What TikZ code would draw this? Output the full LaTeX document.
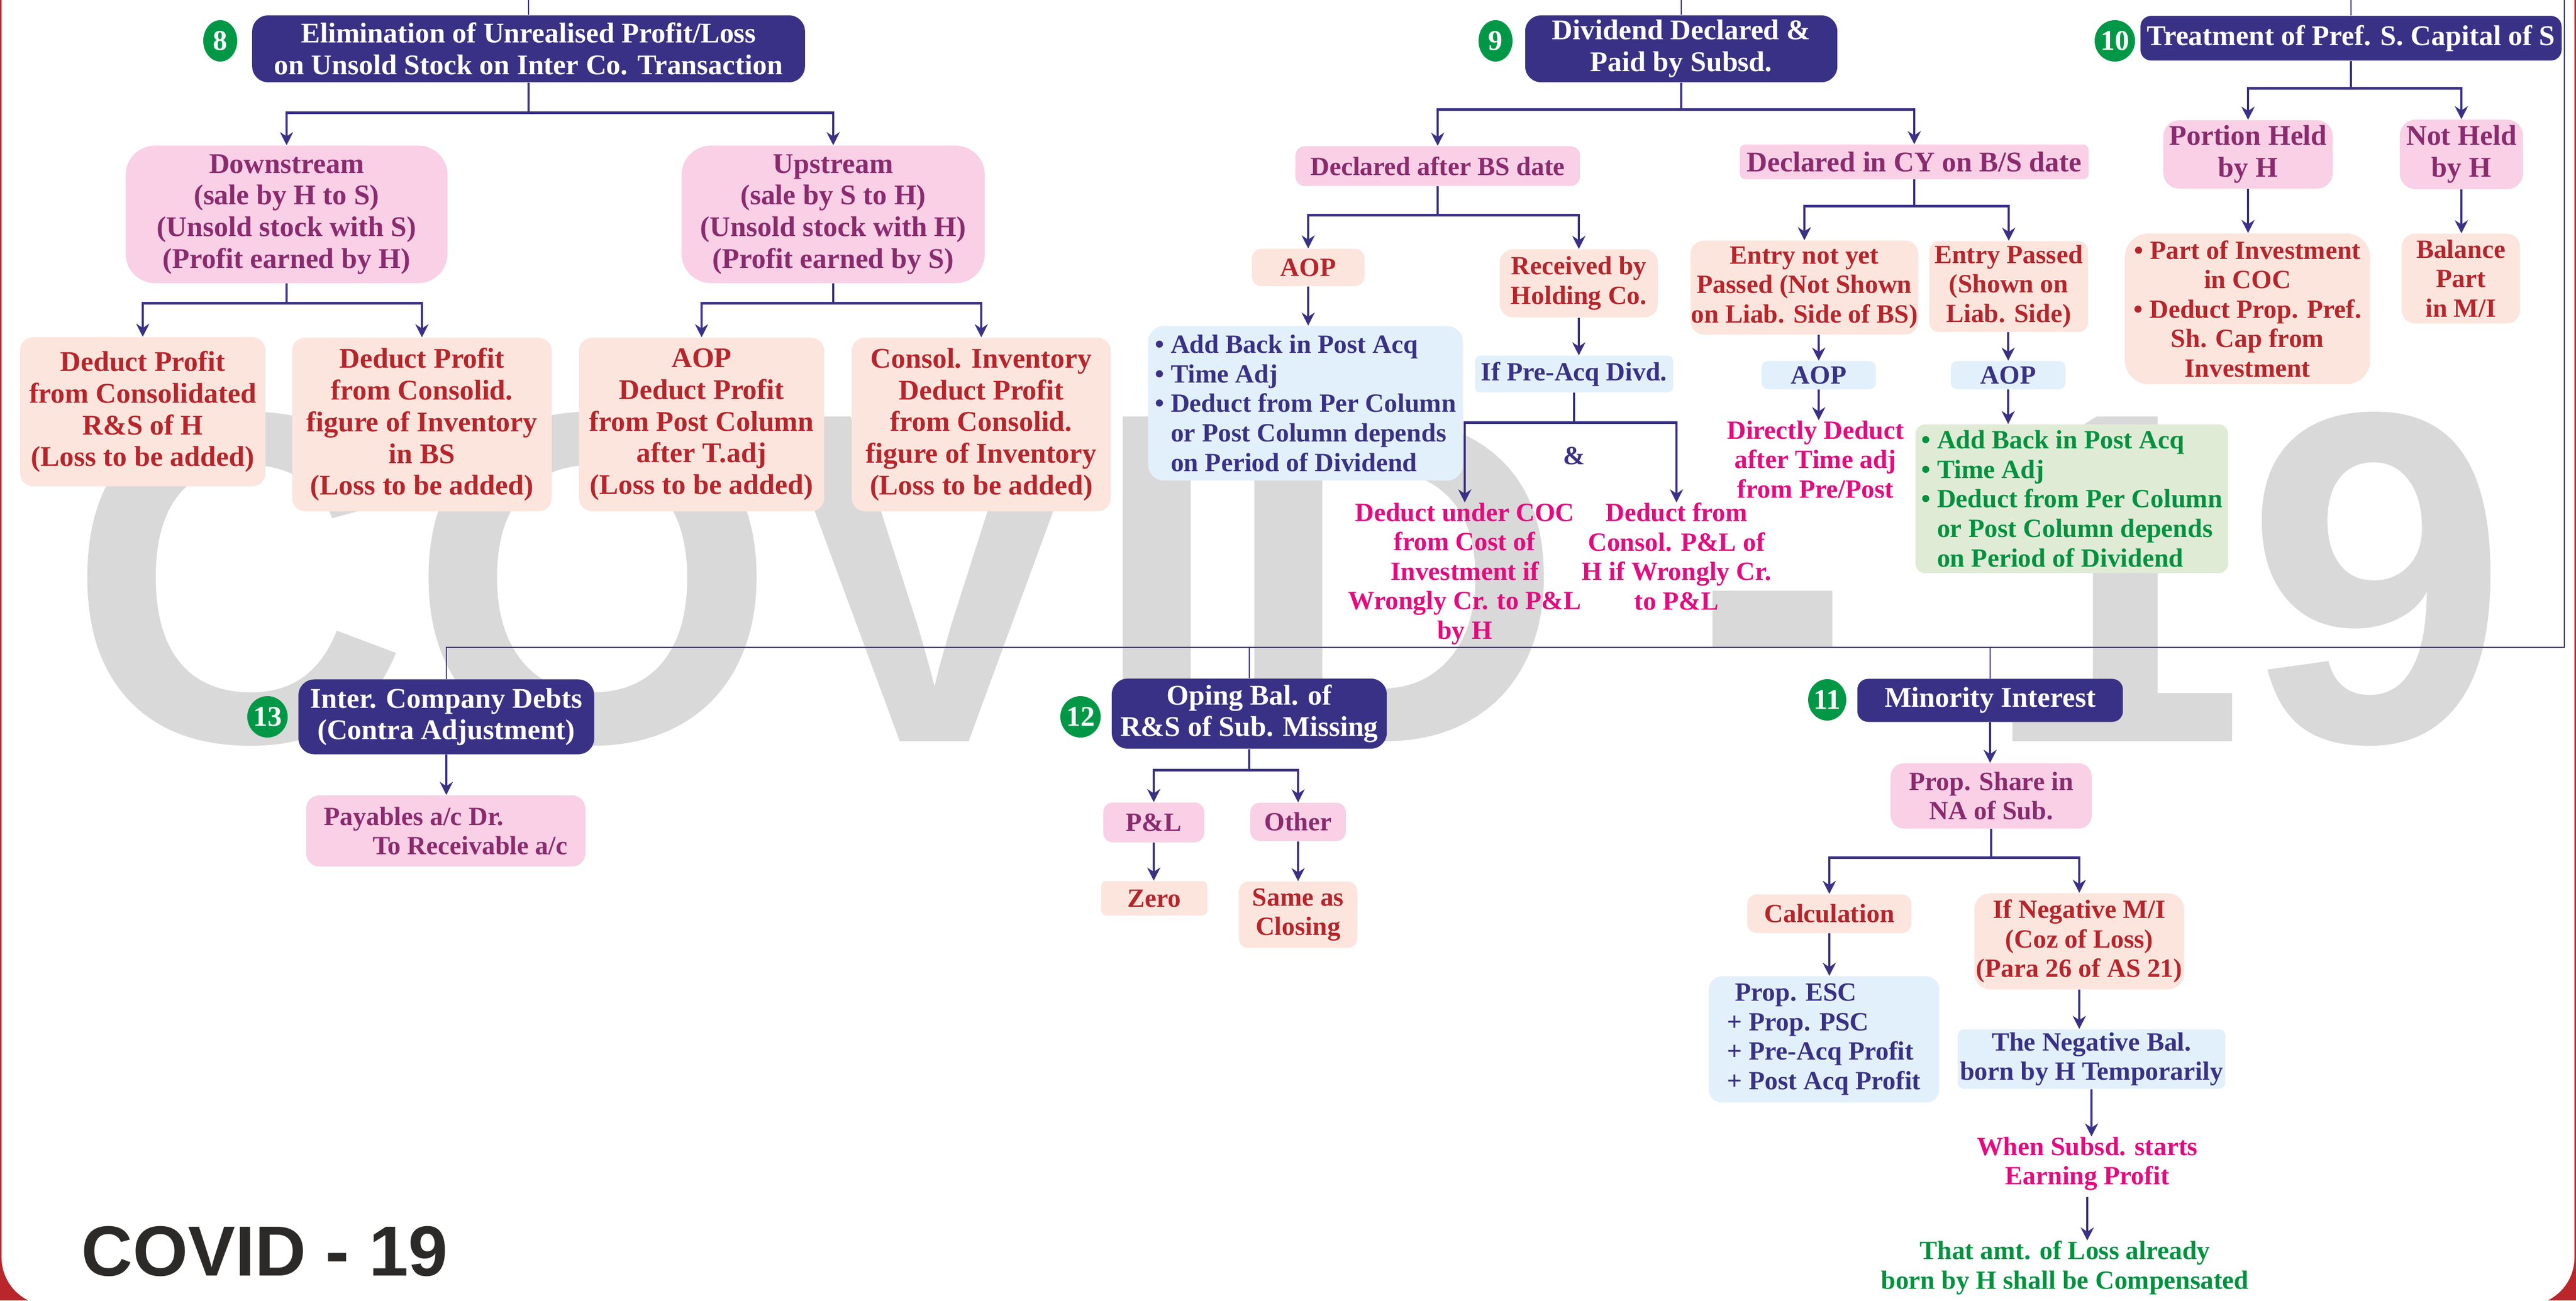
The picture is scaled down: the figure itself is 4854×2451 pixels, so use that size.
\documentclass[tikz,border=0pt]{standalone}
\usepackage{fontspec}
\setmainfont{Liberation Serif}
\newfontfamily\wmfont{Liberation Sans}
\usetikzlibrary{arrows.meta,shapes.geometric}

\definecolor{navy}{RGB}{57,49,133}
\definecolor{badgegreen}{RGB}{0,152,70}
\definecolor{pinkfill}{RGB}{249,208,230}
\definecolor{pinktext}{RGB}{139,43,111}
\definecolor{peachfill}{RGB}{252,229,221}
\definecolor{redtext}{RGB}{183,37,43}
\definecolor{bluefill}{RGB}{226,240,251}
\definecolor{greenfill}{RGB}{224,235,214}
\definecolor{greentext}{RGB}{0,146,63}
\definecolor{magtext}{RGB}{228,10,127}
\definecolor{wmgray}{RGB}{217,217,217}
\definecolor{framered}{RGB}{185,38,43}
\definecolor{darktext}{RGB}{43,42,41}

\newcommand{\bigtxt}{\fontsize{15.3}{17}\selectfont\bfseries}
\newcommand{\smalltxt}{\fontsize{14.1}{15.8}\selectfont\bfseries}

\tikzset{
  sz/.style 2 args={minimum width=#1cm, minimum height=#2cm},
  cell/.style={inner sep=0pt, align=center, rounded corners=0.18cm},
  big/.style={font=\bigtxt},
  titlebox/.style={cell, fill=navy, text=white, font=\bigtxt, rounded corners=0.3cm},
  pinkbox/.style={cell, fill=pinkfill, text=pinktext, font=\smalltxt},
  peachbox/.style={cell, fill=peachfill, text=redtext, font=\smalltxt},
  bluebox/.style={cell, fill=bluefill, text=navy, font=\smalltxt},
  greenbox/.style={cell, fill=greenfill, text=greentext, font=\smalltxt},
  badge/.style={ellipse, fill=badgegreen, text=white, inner sep=0pt,
    minimum width=0.64cm, minimum height=0.78cm, font=\bigtxt},
  freetext/.style={inner sep=0pt, align=center, font=\smalltxt},
  stub/.style={draw=navy, line width=0.9pt},
  arr/.style={draw=navy, line width=1.3pt, -{Stealth[length=7pt,width=7pt]}},
  bus/.style={draw=navy, line width=0.8pt}
}

\begin{document}
\begin{tikzpicture}[x=0.01cm, y=-0.01cm]
        % ---- page and frame -----------------------------
        \useasboundingbox (0,0) rectangle (4854,2451);
        \clip (0,0) rectangle (4854,2451);
        \fill[framered] (0,0) rectangle (4854,2451);
        \fill[white, rounded corners=0.9cm] (3,-100) rectangle (4851,2460);

        % ---- watermark and tag --------------------------
        \node[anchor=base west, inner sep=0pt, text=wmgray,
          font=\wmfont\bfseries\fontsize{253}{253}\selectfont] (wm) at (128,1397) {COVID - 19};
        \node[anchor=base west, inner sep=0pt, text=darktext,
          font=\wmfont\bfseries\fontsize{38}{38}\selectfont] (tag) at (153,2404) {COVID - 19};

        % ---- 8: unrealised profit -----------------------
        \node[badge] (b8) at (415,77) {8};
        \node[titlebox, sz={10.41}{1.26}] (t8) at (996,92)
          {Elimination of Unrealised Profit/Loss\\on Unsold Stock on Inter Co. Transaction};
        \node[pinkbox, big, sz={6.06}{2.59}, rounded corners=0.55cm] (down) at (540,404)
          {Downstream\\(sale by H to S)\\(Unsold stock with S)\\(Profit earned by H)};
        \node[pinkbox, big, sz={5.71}{2.59}, rounded corners=0.55cm] (up) at (1570,404)
          {Upstream\\(sale by S to H)\\(Unsold stock with H)\\(Profit earned by S)};
        \node[peachbox, big, sz={4.62}{2.81}, rounded corners=0.25cm] (d1) at (269,776)
          {Deduct Profit\\from Consolidated\\R\&S of H\\(Loss to be added)};
        \node[peachbox, big, sz={4.89}{3.27}, rounded corners=0.25cm] (d2) at (795,800)
          {Deduct Profit\\from Consolid.\\figure of Inventory\\in BS\\(Loss to be added)};
        \node[peachbox, big, sz={4.62}{3.27}, rounded corners=0.25cm] (u1) at (1322,800)
          {AOP\\Deduct Profit\\from Post Column\\after T.adj\\(Loss to be added)};
        \node[peachbox, big, sz={4.88}{3.27}, rounded corners=0.25cm] (u2) at (1849,800)
          {Consol. Inventory\\Deduct Profit\\from Consolid.\\figure of Inventory\\(Loss to be added)};

        % ---- 9: dividend --------------------------------
        \node[badge] (b9) at (2818,77) {9};
        \node[titlebox, sz={5.88}{1.26}] (t9) at (3168,92) {Dividend Declared \&\\Paid by Subsd.};
        \node[pinkbox, sz={5.36}{0.75}] (dab) at (2709,313) {Declared after BS date};
        \node[pinkbox, big, sz={6.57}{0.65}, rounded corners=0.1cm] (dcy) at (3607,305)
          {Declared in CY on B/S date};
        \node[peachbox, sz={2.12}{0.70}] (aopa) at (2465,504) {AOP};
        \node[peachbox, sz={2.98}{1.28}, rounded corners=0.25cm] (rec) at (2975,534)
          {Received by\\Holding Co.};
        \node[bluebox, sz={5.93}{2.91}, align=left, rounded corners=0.3cm] (addb) at (2460,760)
          {\textbullet\ Add Back in Post Acq\\\textbullet\ Time Adj\\\textbullet\ Deduct from Per Column\\
           \hphantom{\textbullet\ }or Post Column depends\\\hphantom{\textbullet\ }on Period of Dividend};
        \node[bluebox, sz={3.73}{0.69}, rounded corners=0.1cm] (ipa) at (2966,705) {If Pre-Acq Divd.};
        \node[freetext, text=navy] (amp) at (2966,859) {\&};
        \node[freetext, text=magtext, anchor=north] (coc) at (2760,947)
          {Deduct under COC\\from Cost of\\Investment if\\Wrongly Cr. to P\&L\\by H};
        \node[freetext, text=magtext, anchor=north] (plt) at (3159,947)
          {Deduct from\\Consol. P\&L of\\H if Wrongly Cr.\\to P\&L};
        \node[peachbox, sz={4.29}{1.77}, rounded corners=0.25cm] (eny) at (3400,542)
          {Entry not yet\\Passed (Not Shown\\on Liab. Side of BS)};
        \node[peachbox, sz={2.99}{1.71}] (enp) at (3785,540) {Entry Passed\\(Shown on\\Liab. Side)};
        \node[bluebox, sz={2.15}{0.53}, rounded corners=0.12cm] (aopb) at (3427,707) {AOP};
        \node[bluebox, sz={2.16}{0.53}, rounded corners=0.12cm] (aopc) at (3784,707) {AOP};
        \node[freetext, text=magtext, anchor=north] (dird) at (3421,792)
          {Directly Deduct\\after Time adj\\from Pre/Post};
        \node[greenbox, sz={5.89}{2.80}, align=left] (grn) at (3904,940)
          {\textbullet\ Add Back in Post Acq\\\textbullet\ Time Adj\\\textbullet\ Deduct from Per Column\\
           \hphantom{\textbullet\ }or Post Column depends\\\hphantom{\textbullet\ }on Period of Dividend};

        % ---- 10: preference capital ---------------------
        \node[badge] (b10) at (3985,77) {10};
        \node[titlebox, sz={7.93}{0.84}, rounded corners=0.2cm] (t10) at (4430,72)
          {Treatment of Pref. S. Capital of S};
        \node[pinkbox, big, sz={3.19}{1.29}, rounded corners=0.3cm] (por) at (4236,291) {Portion Held\\by H};
        \node[pinkbox, big, sz={2.32}{1.31}, rounded corners=0.3cm] (nhd) at (4638,291) {Not Held\\by H};
        \node[peachbox, sz={4.62}{2.84}, rounded corners=0.45cm] (pinv) at (4235,582)
          {\textbullet\ Part of Investment\\in COC\\\textbullet\ Deduct Prop. Pref.\\Sh. Cap from\\Investment};
        \node[peachbox, sz={2.23}{1.69}, rounded corners=0.25cm] (bal) at (4637,525) {Balance\\Part\\in M/I};

        % ---- 13: inter company debts --------------------
        \node[badge] (b13) at (504,1351) {13};
        \node[titlebox, sz={5.57}{1.41}] (t13) at (841,1351) {Inter. Company Debts\\(Contra Adjustment)};
        \node[pinkbox, sz={5.26}{1.34}, align=left, rounded corners=0.25cm] (pay) at (840,1566)
          {Payables a/c Dr.\\\hspace*{1.85em}To Receivable a/c};

        % ---- 12: opening balance ------------------------
        \node[badge] (b12) at (2036,1351) {12};
        \node[titlebox, sz={5.18}{1.32}] (t12) at (2354,1345) {Oping Bal. of\\R\&S of Sub. Missing};
        \node[pinkbox, sz={1.90}{0.75}] (pnl) at (2174,1550) {P\&L};
        \node[pinkbox, sz={1.80}{0.72}] (oth) at (2446,1549) {Other};
        \node[peachbox, sz={2.00}{0.65}, rounded corners=0.1cm] (zero) at (2175,1693) {Zero};
        \node[peachbox, sz={2.23}{1.25}] (same) at (2446,1724) {Same as\\Closing};

        % ---- 11: minority interest ----------------------
        \node[badge] (b11) at (3443,1319) {11};
        \node[titlebox, sz={5.00}{0.81}, rounded corners=0.2cm] (t11) at (3750,1320) {Minority Interest};
        \node[pinkbox, sz={3.79}{1.23}, rounded corners=0.25cm] (psh) at (3752,1500) {Prop. Share in\\NA of Sub.};
        \node[peachbox, sz={3.09}{0.73}] (calc) at (3447,1722) {Calculation};
        \node[peachbox, sz={3.95}{1.81}, rounded corners=0.3cm] (neg) at (3918,1774)
          {If Negative M/I\\(Coz of Loss)\\(Para 26 of AS 21)};
        \node[bluebox, sz={4.34}{2.38}, align=left, rounded corners=0.25cm] (esc) at (3437,1959)
          {\hspace*{0.3em}Prop. ESC\\+ Prop. PSC\\+ Pre-Acq Profit\\+ Post Acq Profit};
        \node[bluebox, sz={5.04}{1.12}, rounded corners=0.12cm] (nbal) at (3941,1996)
          {The Negative Bal.\\born by H Temporarily};
        \node[freetext, text=magtext, anchor=north] (when) at (3933,2142)
          {When Subsd. starts\\Earning Profit};
        \node[freetext, text=greentext, anchor=north] (that) at (3891,2338)
          {That amt. of Loss already\\born by H shall be Compensated};

        % ---- incoming lines and lower bus ---------------
        \coordinate (in8)  at (996,0);
        \coordinate (in9)  at (3168,0);
        \coordinate (in10) at (4430,0);
        \coordinate (inbus) at (4832,0);
        \coordinate (buscorner) at (4832,1220);
        \draw[bus] (in8) -- (t8.north);
        \draw[bus] (in9) -- (t9.north);
        \draw[bus] (in10) -- (t10.north);
        \draw[bus] (inbus) -- (buscorner) -- (t13.north |- buscorner) -- (t13.north);
        \draw[bus] (t12.north |- buscorner) -- (t12.north);
        \draw[bus] (t11.north |- buscorner) -- (t11.north);

        % ---- connectors of 8 ----------------------------
        \draw[stub] (t8.south) -- ++(0,57) coordinate (j8);
        \draw[arr] (j8) -| (down.north);
        \draw[arr] (j8) -| (up.north);
        \draw[stub] (down.south) -- ++(0,37) coordinate (j8a);
        \draw[arr] (j8a) -| (d1.north);
        \draw[arr] (j8a) -| (d2.north);
        \draw[stub] (up.south) -- ++(0,37) coordinate (j8b);
        \draw[arr] (j8b) -| (u1.north);
        \draw[arr] (j8b) -| (u2.north);

        % ---- connectors of 9 ----------------------------
        \draw[stub] (t9.south) -- ++(0,51) coordinate (j9);
        \draw[arr] (j9) -| (dab.north);
        \draw[arr] (j9) -| (dcy.north);
        \draw[stub] (dab.south) -- ++(0,54) coordinate (j9a);
        \draw[arr] (j9a) -| (aopa.north);
        \draw[arr] (j9a) -| (rec.north);
        \draw[arr] (aopa.south) -- (aopa.south |- addb.north);
        \draw[arr] (rec.south) -- (rec.south |- ipa.north);
        \draw[stub] (ipa.south) -- ++(0,56) coordinate (j9b);
        \draw[arr] (j9b) -| (coc.north);
        \draw[arr] (j9b) -| (plt.north);
        \draw[stub] (dcy.south) -- ++(0,50) coordinate (j9c);
        \draw[arr] (j9c) -| (eny.north);
        \draw[arr] (j9c) -| (enp.north);
        \draw[arr] (eny.south -| aopb.north) -- (aopb.north);
        \draw[arr] (aopb.south) -- (aopb.south |- dird.north);
        \draw[arr] (enp.south -| aopc.north) -- (aopc.north);
        \draw[arr] (aopc.south) -- (aopc.south |- grn.north);

        % ---- connectors of 10 ---------------------------
        \draw[stub] (t10.south) -- ++(0,52) coordinate (j10);
        \draw[arr] (j10) -| (por.north);
        \draw[arr] (j10) -| (nhd.north);
        \draw[arr] (por.south) -- (por.south |- pinv.north);
        \draw[arr] (nhd.south) -- (nhd.south |- bal.north);

        % ---- connectors of 13, 12, 11 -------------------
        \draw[arr] (t13.south) -- (t13.south |- pay.north);
        \draw[stub] (t12.south) -- ++(0,40) coordinate (j12);
        \draw[arr] (j12) -| (pnl.north);
        \draw[arr] (j12) -| (oth.north);
        \draw[arr] (pnl.south) -- (pnl.south |- zero.north);
        \draw[arr] (oth.south) -- (oth.south |- same.north);
        \draw[arr] (t11.south) -- (t11.south |- psh.north);
        \draw[stub] (psh.south) -- ++(0,54) coordinate (j11);
        \draw[arr] (j11) -| (calc.north);
        \draw[arr] (j11) -| (neg.north);
        \draw[arr] (calc.south) -- (calc.south |- esc.north);
        \draw[arr] (neg.south) -- (neg.south |- nbal.north);
        \draw[arr] (nbal.south) -- (nbal.south |- when.north);
        \draw[arr, shorten <=0.12cm] (when.south) -- (when.south |- that.north);
\end{tikzpicture}
\end{document}
